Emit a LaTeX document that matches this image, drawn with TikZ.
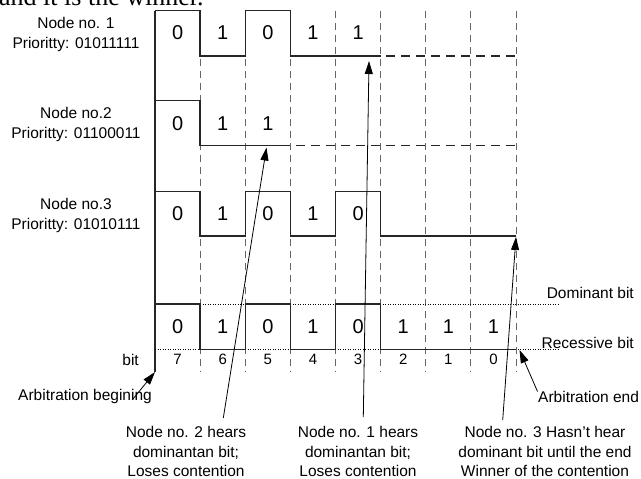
\documentclass[tikz,border=0pt]{standalone}
\usepackage{fontspec}
\setmainfont{Liberation Sans}
\newfontfamily\pageserif{Liberation Serif}
\usetikzlibrary{arrows.meta}
\begin{document}
\begin{tikzpicture}[x=1pt,y=-1pt,
  sig/.style={line width=1.4pt, black!85, line join=miter},
  sigdash/.style={line width=1.4pt, black!85, dash pattern=on 9pt off 6pt},
  gridline/.style={line width=0.9pt, black!60, dash pattern=on 7pt off 5pt},
  levelline/.style={line width=0.7pt, dash pattern=on 1pt off 1.5pt},
  bitval/.style={inner sep=0pt, font=\fontsize{20}{24}\selectfont},
  bitnum/.style={inner sep=0pt, font=\fontsize{15}{18}\selectfont},
  lbl/.style={inner sep=0pt, align=center, font=\fontsize{15.5}{20}\selectfont},
  annot/.style={inner sep=0pt, align=center, font=\fontsize{15.5}{19.5}\selectfont},
  ann/.style={-{Triangle[length=13pt,width=8pt]}, line width=0.8pt},
]
\useasboundingbox (0,0) rectangle (641,479);

% cut-off page text at the top
\begin{scope}
  \clip (0,0) rectangle (641,479);
  \node[anchor=base west, inner sep=0pt, font=\pageserif\fontsize{26}{30}\selectfont] (pagetext) at (-1,5.7) {and it is the winner.};
\end{scope}

% column boundaries
\def\xa{155}
\foreach \i in {1,...,8} {
  \pgfmathsetmacro{\xx}{155+45.125*\i}
  \draw[gridline] (\xx,10.7) -- (\xx,372);
}
% left edge
\draw[sig] (155,10.7) -- (155,372);

% level lines of the bus
\draw[levelline] (155,304) -- (560,304);
\draw[levelline] (155,349.3) -- (560,349.3);

% Node 1 signal
\draw[sig] (155,10.7) -- (200.1,10.7) -- (200.1,56) -- (245.3,56) -- (245.3,10.7) -- (290.4,10.7) -- (290.4,56) -- (380.6,56);
\draw[sigdash] (386,56) -- (516,56);
% Node 2 signal
\draw[sig] (155,100.7) -- (200.1,100.7) -- (200.1,145.7) -- (290.4,145.7);
\draw[sigdash] (296,145.7) -- (516,145.7);
% Node 3 signal
\draw[sig] (155,191.7) -- (200.1,191.7) -- (200.1,236) -- (245.3,236) -- (245.3,191.7) -- (290.4,191.7) -- (290.4,236) -- (335.5,236) -- (335.5,191.7) -- (380.6,191.7) -- (380.6,236) -- (516,236);
% Bus signal
\draw[sig] (155,304) -- (200.1,304) -- (200.1,349.3) -- (245.3,349.3) -- (245.3,304) -- (290.4,304) -- (290.4,349.3) -- (335.5,349.3) -- (335.5,304) -- (380.6,304) -- (380.6,349.3) -- (516,349.3);

% bit values
\foreach \v [count=\k from 0] in {0,1,0,1,1} {
  \node[bitval] (na\k) at (177.6+45.125*\k,33) {\v};
}
\foreach \v [count=\k from 0] in {0,1,1} {
  \node[bitval] (nb\k) at (177.6+45.125*\k,123.5) {\v};
}
\foreach \v [count=\k from 0] in {0,1,0,1,0} {
  \node[bitval] (nc\k) at (177.6+45.125*\k,213.5) {\v};
}
\foreach \v [count=\k from 0] in {0,1,0,1,0,1,1,1} {
  \node[bitval] (bus\k) at (177.6+45.125*\k,327) {\v};
}
\foreach \v [count=\k from 0] in {7,6,5,4,3,2,1,0} {
  \node[bitnum] (bn\k) at (177.6+45.125*\k,359.5) {\v};
}

% left labels
\node[lbl] (lab1) at (76,34) {Node no. 1\\Prioritty: 01011111};
\node[lbl] (lab2) at (76,124.5) {Node no.2\\Prioritty: 01100011};
\node[lbl] (lab3) at (76,215) {Node no.3\\Prioritty: 01010111};
\node[lbl, anchor=east] (bitlab) at (139,360) {bit};
\node[lbl, anchor=east] (domlab) at (634,293) {Dominant bit};
\node[lbl, anchor=east] (reclab) at (634,343) {Recessive bit};

\node[lbl] (begin) at (85,396) {Arbitration begining};
\node[lbl, anchor=west] (endlab) at (538,397) {Arbitration end};

\node[annot] (t1) at (186,451.5) {Node no. 2 hears\\dominantan bit;\\Loses contention};
\node[annot] (t2) at (358,451.5) {Node no. 1 hears\\dominantan bit;\\Loses contention};
\node[annot] (t3) at (545,451.5) {Node no. 3 Hasn't hear\\dominant bit until the end\\Winner of the contention};

% arrow tips and tails
\coordinate (tipA) at (155,372);
\coordinate (tailA) at (133,399);
\coordinate (tip1) at (266.5,147.5);
\coordinate (tail1) at (223.3,418);
\coordinate (tip2) at (369,61);
\coordinate (tail2) at (363.3,417);
\coordinate (tip3) at (516,237);
\coordinate (tail3) at (502.7,420);
\coordinate (tipE) at (519.5,350);
\coordinate (tailE) at (537.5,391.5);

\draw[ann] (tailA) -- (tipA);
\draw[ann] (tail1) -- (tip1);
\draw[ann] (tail2) -- (tip2);
\draw[ann] (tail3) -- (tip3);
\draw[ann] (tailE) -- (tipE);
\end{tikzpicture}
\end{document}
